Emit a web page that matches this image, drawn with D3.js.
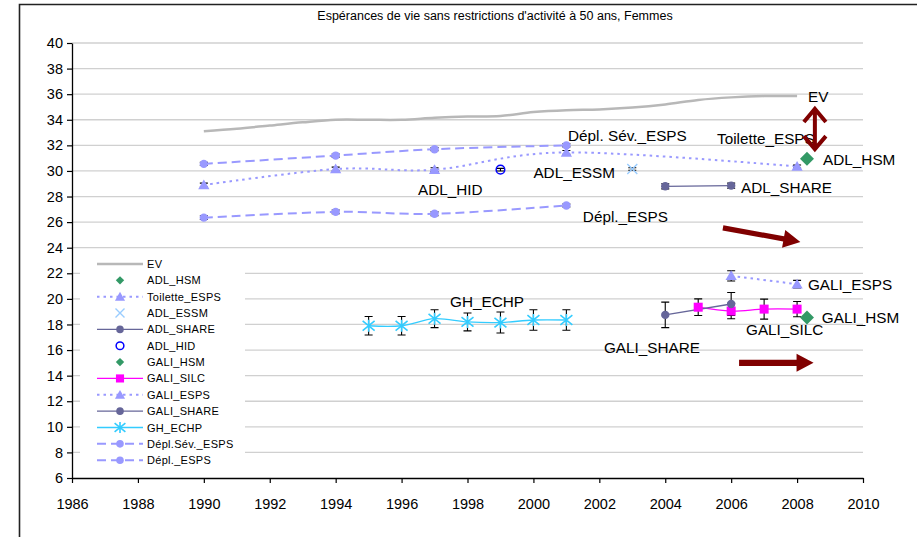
<!DOCTYPE html>
<html>
<head>
<meta charset="utf-8">
<script src="https://cdn.jsdelivr.net/npm/d3@7"></script>
<style>
  body { margin: 0; background: #fff; }
  text { font-family: "Liberation Sans", Arial, sans-serif; }
</style>
</head>
<body>
<div id="chart"></div>
<script>
// --- data ---
var chartTitle = "Espérances de vie sans restrictions d'activité à 50 ans, Femmes";
var xTicks = [1986, 1988, 1990, 1992, 1994, 1996, 1998, 2000, 2002, 2004, 2006, 2008, 2010];
var yTicks = [6, 8, 10, 12, 14, 16, 18, 20, 22, 24, 26, 28, 30, 32, 34, 36, 38, 40];

var evYears = [1990, 1991, 1992, 1993, 1994, 1995, 1996, 1997, 1998, 1999, 2000, 2001, 2002, 2003, 2004, 2005, 2006, 2007, 2008];
var evValues = [33.1, 33.3, 33.55, 33.8, 34.0, 34.0, 34.0, 34.15, 34.25, 34.3, 34.6, 34.75, 34.8, 34.95, 35.2, 35.55, 35.75, 35.85, 35.85];

var deplSevYears = [1990, 1994, 1997, 2001];
var deplSevValues = [30.55, 31.2, 31.7, 32.0];
var deplSevErr = [0.12, 0.12, 0.12, 0.12];

var toiletteYears = [1990, 1994, 1997, 2001, 2008];
var toiletteValues = [28.9, 30.15, 30.1, 31.45, 30.35];
var toiletteErr = [0.15, 0.15, 0.15, 0.15, 0.12];

var deplYears = [1990, 1994, 1997, 2001];
var deplValues = [26.35, 26.8, 26.65, 27.3];
var deplErr = [0.15, 0.15, 0.15, 0.12];

var adlHidYears = [1999];
var adlHidValues = [30.1];
var adlHidErr = [0.1];

var adlEssmYears = [2003];
var adlEssmValues = [30.15];
var adlEssmErr = [0.1];

var adlShareYears = [2004, 2006];
var adlShareValues = [28.8, 28.85];
var adlShareErr = [0.2, 0.2];

var adlHsmYears = [2008.3];
var adlHsmValues = [30.95];

var galiEspsYears = [2006, 2008];
var galiEspsValues = [21.8, 21.15];
var galiEspsErr = [0.4, 0.3];

var galiShareYears = [2004, 2006];
var galiShareValues = [18.75, 19.6];
var galiShareErr = [1.0, 0.9];

var galiSilcYears = [2005, 2006, 2007, 2008];
var galiSilcValues = [19.35, 19.05, 19.2, 19.2];
var galiSilcErr = [0.65, 0.6, 0.78, 0.6];

var galiHsmYears = [2008.3];
var galiHsmValues = [18.55];
var galiHsmErr = [0.15];

var ghEchpYears = [1995, 1996, 1997, 1998, 1999, 2000, 2001];
var ghEchpValues = [17.9, 17.9, 18.45, 18.2, 18.15, 18.35, 18.35];
var ghEchpErr = [0.72, 0.72, 0.7, 0.7, 0.82, 0.8, 0.8];

// labels placed next to the series, in data units (start of text, baseline)
var labelTexts = ["EV", "Dépl. Sév._ESPS", "Toilette_ESPS", "ADL_HSM", "ADL_ESSM", "ADL_HID", "ADL_SHARE", "Dépl._ESPS", "GH_ECHP", "GALI_ESPS", "GALI_HSM", "GALI_SILC", "GALI_SHARE"];
var labelYears = [2008.33, 2001.05, 2005.57, 2008.79, 2000.0, 1996.5, 2006.3, 2001.5, 1997.47, 2008.33, 2008.75, 2006.45, 2002.14];
var labelValues = [35.39, 32.34, 32.1, 30.46, 29.45, 28.12, 28.28, 26.0, 19.37, 20.69, 18.11, 17.18, 15.77];

// arrows (from -> to) in data units
var arrowFromYears = [2005.75, 2006.24];
var arrowFromValues = [25.55, 15.0];
var arrowToYears = [2008.1, 2008.5];
var arrowToValues = [24.45, 15.0];
var dblArrowYear = 2008.54;
var dblArrowTop = 35.0;
var dblArrowBottom = 31.55;

// --- styles ---
var C = {
  ev: "#b8b8b8",
  espsLine: "#9999ff",
  share: "#666699",
  silc: "#ff00ff",
  echp: "#33ccff",
  hsm: "#339966",
  hid: "#0000ff",
  essm: "#99ccff",
  arrow: "#800000",
  grid: "#d0d0d0"
};

function pack(years, values, errs) {
  return years.map(function(yr, i) {
    return { year: yr, value: values[i], err: errs ? errs[i] : null };
  });
}

var series = [
  { name: "EV", data: pack(evYears, evValues), color: C.ev, width: 2.5, dash: null, marker: null, line: true },
  { name: "ADL_HSM", data: pack(adlHsmYears, adlHsmValues), color: C.hsm, marker: "diamond", line: false },
  { name: "Toilette_ESPS", data: pack(toiletteYears, toiletteValues, toiletteErr), color: C.espsLine, width: 2, dash: "2.5,4", marker: "triangle", line: true },
  { name: "ADL_ESSM", data: pack(adlEssmYears, adlEssmValues, adlEssmErr), color: C.essm, marker: "x", line: false },
  { name: "ADL_SHARE", data: pack(adlShareYears, adlShareValues, adlShareErr), color: C.share, width: 1.3, dash: null, marker: "circle", line: true },
  { name: "ADL_HID", data: pack(adlHidYears, adlHidValues, adlHidErr), color: C.hid, marker: "ocircle", line: false },
  { name: "GALI_HSM", data: pack(galiHsmYears, galiHsmValues, galiHsmErr), color: C.hsm, marker: "diamond", line: false },
  { name: "GALI_SILC", data: pack(galiSilcYears, galiSilcValues, galiSilcErr), color: C.silc, width: 1.3, dash: null, marker: "square", line: true },
  { name: "GALI_ESPS", data: pack(galiEspsYears, galiEspsValues, galiEspsErr), color: C.espsLine, width: 2, dash: "2.5,4", marker: "triangle", line: true },
  { name: "GALI_SHARE", data: pack(galiShareYears, galiShareValues, galiShareErr), color: C.share, width: 1.3, dash: null, marker: "circle", line: true },
  { name: "GH_ECHP", data: pack(ghEchpYears, ghEchpValues, ghEchpErr), color: C.echp, width: 1.3, dash: null, marker: "star", line: true },
  { name: "Dépl.Sév._ESPS", data: pack(deplSevYears, deplSevValues, deplSevErr), color: C.espsLine, width: 2, dash: "9,5", marker: "circle", line: true },
  { name: "Dépl._ESPS", data: pack(deplYears, deplValues, deplErr), color: C.espsLine, width: 2, dash: "9,5", marker: "circle", line: true }
];

// --- layout ---
var W = 917, H = 537;
var plot = { left: 72, right: 863, top: 43, bottom: 478 };

var svg = d3.select("#chart").append("svg")
    .attr("width", W)
    .attr("height", H);

var x = d3.scaleLinear().domain([1986, 2010]).range([plot.left, plot.right]);
var y = d3.scaleLinear().domain([6, 40]).range([plot.bottom, plot.top]);

// frame of the chart object
svg.append("path")
    .attr("d", "M19.5," + H + "V4.5H" + W)
    .attr("fill", "none")
    .attr("stroke", "#222")
    .attr("stroke-width", 1.6);

svg.append("text")
    .attr("x", 495)
    .attr("y", 20)
    .attr("text-anchor", "middle")
    .attr("font-family", "'Liberation Sans Narrow', 'Arial Narrow', sans-serif")
    .attr("font-size", 12.5)
    .text(chartTitle);

// gridlines
svg.append("g")
    .selectAll("line")
    .data(yTicks.filter(function(t) { return t > 6; }))
    .enter().append("line")
    .attr("x1", plot.left)
    .attr("x2", plot.right)
    .attr("y1", function(t) { return y(t); })
    .attr("y2", function(t) { return y(t); })
    .attr("stroke", C.grid)
    .attr("stroke-width", 1.3);

// axes
var xAxis = svg.append("g")
    .attr("transform", "translate(0," + plot.bottom + ")")
    .call(d3.axisBottom(x).tickValues(xTicks).tickFormat(d3.format("d")).tickSize(5).tickSizeOuter(0));
var yAxis = svg.append("g")
    .attr("transform", "translate(" + plot.left + ",0)")
    .call(d3.axisLeft(y).tickValues(yTicks).tickSize(5).tickSizeOuter(0));

[xAxis, yAxis].forEach(function(ax) {
  ax.select(".domain").attr("stroke", "#000").attr("stroke-width", 1.3);
  ax.selectAll(".tick line").attr("stroke", "#000").attr("stroke-width", 1.2);
  ax.selectAll(".tick text")
    .attr("font-family", "'Liberation Sans', Arial, sans-serif")
    .attr("font-size", 14.5)
    .attr("fill", "#000");
});
xAxis.selectAll(".tick text").attr("dy", "1.6em");
yAxis.selectAll(".tick text").attr("x", -9);

// --- marks ---
function drawMarker(g, type, cx, cy, color, scale) {
  var s = scale || 1;
  if (type === "circle") {
    g.append("circle").attr("cx", cx).attr("cy", cy).attr("r", 4.2 * s).attr("fill", color);
  } else if (type === "ocircle") {
    g.append("circle").attr("cx", cx).attr("cy", cy).attr("r", 4.3 * s)
      .attr("fill", "none").attr("stroke", color).attr("stroke-width", 1.5);
  } else if (type === "triangle") {
    g.append("path").attr("d", d3.symbol(d3.symbolTriangle, 55 * s * s)())
      .attr("transform", "translate(" + cx + "," + (cy + 1) + ")").attr("fill", color);
  } else if (type === "square") {
    g.append("rect").attr("x", cx - 4.5 * s).attr("y", cy - 4.5 * s)
      .attr("width", 9 * s).attr("height", 9 * s).attr("fill", color);
  } else if (type === "diamond") {
    var d = 7 * s;
    g.append("path").attr("d", "M" + cx + "," + (cy - d) + "L" + (cx + d) + "," + cy + "L" + cx + "," + (cy + d) + "L" + (cx - d) + "," + cy + "Z")
      .attr("fill", color);
  } else if (type === "x") {
    var r = 5 * s;
    g.append("path").attr("d", "M" + (cx - r) + "," + (cy - r) + "L" + (cx + r) + "," + (cy + r) + "M" + (cx - r) + "," + (cy + r) + "L" + (cx + r) + "," + (cy - r))
      .attr("stroke", color).attr("stroke-width", 1.4);
  } else if (type === "star") {
    var k = 6 * s;
    g.append("path").attr("d", "M" + (cx - k) + "," + (cy - k * 0.8) + "L" + (cx + k) + "," + (cy + k * 0.8) +
        "M" + (cx - k) + "," + (cy + k * 0.8) + "L" + (cx + k) + "," + (cy - k * 0.8) +
        "M" + cx + "," + (cy - k) + "L" + cx + "," + (cy + k))
      .attr("stroke", color).attr("stroke-width", 1.6);
  }
}

var line = d3.line()
    .x(function(d) { return x(d.year); })
    .y(function(d) { return y(d.value); })
    .curve(d3.curveCardinal.tension(0));

var marks = svg.append("g");

series.forEach(function(s) {
  if (s.line && s.data.length > 1) {
    marks.append("path")
      .attr("d", line(s.data))
      .attr("fill", "none")
      .attr("stroke", s.color)
      .attr("stroke-width", s.width)
      .attr("stroke-dasharray", s.dash);
  }
});

// error bars under the markers
series.forEach(function(s) {
  s.data.forEach(function(d) {
    if (d.err == null) return;
    var cx = x(d.year), y0 = y(d.value - d.err), y1 = y(d.value + d.err);
    marks.append("path")
      .attr("d", "M" + cx + "," + y0 + "V" + y1 + "M" + (cx - 4) + "," + y0 + "H" + (cx + 4) + "M" + (cx - 4) + "," + y1 + "H" + (cx + 4))
      .attr("fill", "none")
      .attr("stroke", "#000")
      .attr("stroke-width", 1.1);
  });
});

series.forEach(function(s) {
  if (!s.marker) return;
  s.data.forEach(function(d) {
    drawMarker(marks, s.marker, x(d.year), y(d.value), s.color);
  });
});

// --- labels next to the series ---
svg.append("g")
    .selectAll("text")
    .data(labelTexts)
    .enter().append("text")
    .attr("x", function(t, i) { return x(labelYears[i]); })
    .attr("y", function(t, i) { return y(labelValues[i]); })
    .attr("font-size", 15.3)
    .attr("fill", "#000")
    .text(function(t) { return t; });

// --- arrows ---
var arrows = svg.append("g");
arrowFromYears.forEach(function(fy, i) {
  var x0 = x(fy), y0 = y(arrowFromValues[i]);
  var x1 = x(arrowToYears[i]), y1 = y(arrowToValues[i]);
  var ang = Math.atan2(y1 - y0, x1 - x0);
  var len = Math.sqrt((x1 - x0) * (x1 - x0) + (y1 - y0) * (y1 - y0));
  var head = 17, half = 9, shaft = i === 0 ? 2.6 : 3.2;
  var g = arrows.append("g")
      .attr("transform", "translate(" + x0 + "," + y0 + ") rotate(" + (ang * 180 / Math.PI) + ")");
  g.append("path")
    .attr("d", "M0," + (-shaft) + "H" + (len - head) + "V" + (-half) + "L" + len + ",0L" + (len - head) + "," + half + "V" + shaft + "H0Z")
    .attr("fill", C.arrow);
});

var dx = x(dblArrowYear), dTop = y(dblArrowTop), dBot = y(dblArrowBottom);
arrows.append("path")
    .attr("d", "M" + dx + "," + (dTop + 2) + "V" + (dBot - 2) +
      "M" + (dx - 11) + "," + (dTop + 15) + "L" + dx + "," + (dTop + 2) + "L" + (dx + 11) + "," + (dTop + 15) +
      "M" + (dx - 11) + "," + (dBot - 15) + "L" + dx + "," + (dBot - 2) + "L" + (dx + 11) + "," + (dBot - 15))
    .attr("fill", "none")
    .attr("stroke", C.arrow)
    .attr("stroke-width", 4)
    .attr("stroke-linejoin", "miter");

// --- legend ---
var legend = svg.append("g");
legend.append("rect")
    .attr("x", 80)
    .attr("y", 254)
    .attr("width", 165)
    .attr("height", 216)
    .attr("fill", "#fff");

series.forEach(function(s, i) {
  var ly = 264 + i * 16.35;
  var row = legend.append("g");
  if (s.line) {
    row.append("line")
      .attr("x1", 97).attr("x2", 143)
      .attr("y1", ly).attr("y2", ly)
      .attr("stroke", s.color)
      .attr("stroke-width", s.width)
      .attr("stroke-dasharray", s.dash);
  }
  if (s.marker) {
    drawMarker(row, s.marker, 120, ly, s.color, s.marker === "diamond" ? 0.6 : 0.9);
  }
  row.append("text")
    .attr("x", 147)
    .attr("y", ly + 4)
    .attr("font-size", 11)
    .attr("letter-spacing", 0.3)
    .attr("fill", "#000")
    .text(s.name);
});
</script>
</body>
</html>
